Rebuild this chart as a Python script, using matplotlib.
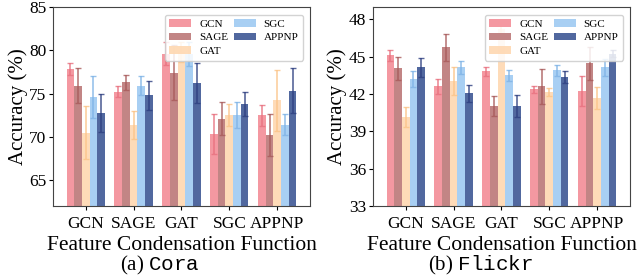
import matplotlib
matplotlib.use("Agg")
import matplotlib.pyplot as plt
import numpy as np

plt.rcParams['font.family'] = 'Liberation Serif'
plt.rcParams['mathtext.fontset'] = 'custom'
plt.rcParams['mathtext.tt'] = 'Liberation Mono'
plt.rcParams['mathtext.rm'] = 'Liberation Serif'

# feature condensation functions (x groups) and evaluated models (bars)
groups = ["GCN", "SAGE", "GAT", "SGC", "APPNP"]
models = ["GCN", "SAGE", "GAT", "SGC", "APPNP"]

# Cora: rows = model, columns = condensation function
cora_mean = [
    [77.8, 75.2, 79.6, 70.3, 72.5],  # GCN
    [75.9, 76.3, 77.4, 72.1, 70.2],  # SAGE
    [70.5, 71.4, 79.8, 72.5, 74.2],  # GAT
    [74.6, 75.9, 79.6, 72.5, 71.4],  # SGC
    [72.8, 74.8, 76.2, 73.8, 75.3],  # APPNP
]
cora_std = [
    [0.7, 0.65, 1.3, 2.3, 1.2],
    [2.0, 0.9, 3.2, 1.9, 2.4],
    [3.1, 1.6, 1.2, 1.3, 3.5],
    [2.4, 1.1, 1.4, 1.5, 1.2],
    [2.2, 1.7, 2.3, 1.4, 2.6],
]

# Flickr
flickr_mean = [
    [45.13, 42.63, 43.84, 42.37, 42.26],
    [44.06, 45.75, 41.03, 42.63, 44.46],
    [40.16, 43.06, 47.2, 42.15, 41.70],
    [43.22, 44.14, 43.52, 43.92, 44.16],
    [44.14, 42.05, 41.05, 43.36, 45.26],
]
flickr_std = [
    [0.45, 0.6, 0.35, 0.3, 1.2],
    [0.95, 1.1, 0.8, 1.4, 1.3],
    [0.8, 1.1, 0.6, 0.3, 0.9],
    [0.65, 0.55, 0.45, 0.45, 0.7],
    [0.75, 0.65, 0.9, 0.5, 0.3],
]

colors = ['#f4939c', '#bf7f7f', '#fed9b4', '#a3cdf3', '#48609a']
err_colors = ['#e8707e', '#a85a5a', '#fbc488', '#7fb3e6', '#2d3f80']


def draw(ax, mean, std, ylim, yticks):
    x = np.arange(len(groups))
    w = 0.16
    for i, m in enumerate(models):
        ax.bar(x + (i - 2) * w, mean[i], w, color=colors[i], alpha=0.95,
               label=m, zorder=2)
        ax.errorbar(x + (i - 2) * w, mean[i], yerr=std[i], fmt='none',
                    ecolor=err_colors[i], elinewidth=1.2, capsize=2,
                    capthick=1, alpha=0.8, zorder=3)
    ax.set_xlim(-0.68, 4.68)
    ax.set_ylim(*ylim)
    ax.set_yticks(yticks)
    ax.set_xticks(x)
    ax.set_xticklabels(groups)
    ax.tick_params(axis='both', labelsize=12.5, length=3, pad=2)
    ax.tick_params(axis='x', pad=4)
    ax.set_xlabel("Feature Condensation Function", fontsize=15.5, labelpad=3)
    ax.set_ylabel("Accuracy (%)", fontsize=15, labelpad=1)
    for s in ax.spines.values():
        s.set_color('#444444')
    ax.legend(ncol=2, loc='upper right', fontsize=8, handlelength=2.0,
              handleheight=0.7, columnspacing=0.5, handletextpad=0.7,
              labelspacing=0.35, borderpad=0.4, framealpha=0.85,
              fancybox=True, bbox_to_anchor=(0.995, 0.99))


fig = plt.figure(figsize=(6.4, 2.8), dpi=100)
ax1 = fig.add_axes([0.083, 0.264, 0.401, 0.711])
ax2 = fig.add_axes([0.583, 0.264, 0.401, 0.711])

draw(ax1, cora_mean, cora_std, (62, 85), [65, 70, 75, 80, 85])
draw(ax2, flickr_mean, flickr_std, (33, 49), [33, 36, 39, 42, 45, 48])

fig.text(0.25, 0.052, r"(a) $\mathtt{Cora}$", ha='center', va='center', fontsize=15)
fig.text(0.75, 0.052, r"(b) $\mathtt{Flickr}$", ha='center', va='center', fontsize=15)

fig.savefig("out.png", dpi=100)
